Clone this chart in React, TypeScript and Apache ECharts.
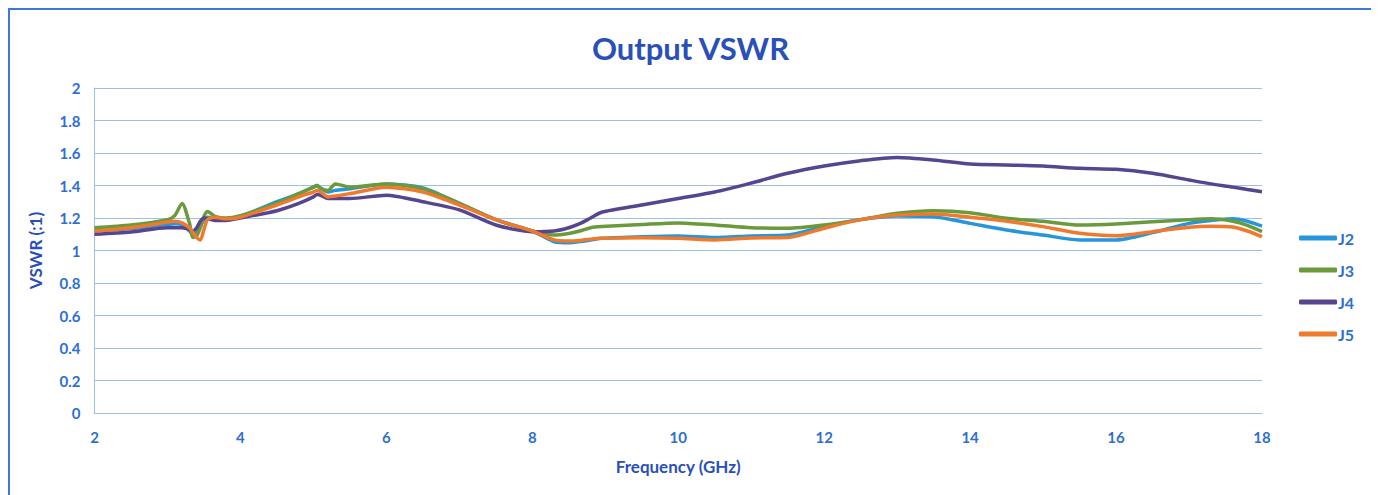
import React, { useEffect, useRef } from "react";
import * as echarts from "echarts";

const freqs = [2, 2.5, 3, 3.1, 3.2, 3.3, 3.35, 3.4, 3.45, 3.5, 3.55, 3.65, 3.8, 4, 4.5, 4.8, 5, 5.05, 5.1, 5.2, 5.3, 5.5, 6, 6.5, 7, 7.5, 8, 8.3, 8.5, 8.65, 8.8, 8.95, 9.5, 10, 10.5, 11, 11.5, 12, 12.5, 13, 13.5, 14, 14.5, 15, 15.5, 16, 16.5, 17, 17.3, 17.6, 17.8, 18];

const j2 = [1.12, 1.135, 1.16, 1.165, 1.16, 1.12, 1.10, 1.11, 1.15, 1.19, 1.205, 1.2, 1.195, 1.21, 1.30, 1.35, 1.39, 1.40, 1.385, 1.36, 1.37, 1.38, 1.41, 1.385, 1.29, 1.19, 1.12, 1.054, 1.048, 1.055, 1.065, 1.075, 1.085, 1.09, 1.08, 1.09, 1.095, 1.147, 1.19, 1.212, 1.208, 1.167, 1.126, 1.095, 1.065, 1.065, 1.11, 1.167, 1.185, 1.195, 1.18, 1.15];
const j3 = [1.14, 1.157, 1.19, 1.215, 1.29, 1.17, 1.08, 1.09, 1.14, 1.21, 1.24, 1.21, 1.20, 1.215, 1.29, 1.35, 1.39, 1.40, 1.38, 1.37, 1.41, 1.39, 1.41, 1.38, 1.29, 1.19, 1.12, 1.095, 1.105, 1.12, 1.14, 1.147, 1.16, 1.17, 1.157, 1.14, 1.137, 1.157, 1.19, 1.229, 1.245, 1.233, 1.198, 1.18, 1.157, 1.163, 1.177, 1.19, 1.195, 1.18, 1.155, 1.116];
const j4 = [1.10, 1.114, 1.14, 1.14, 1.14, 1.13, 1.12, 1.14, 1.18, 1.2, 1.195, 1.185, 1.185, 1.2, 1.245, 1.29, 1.33, 1.345, 1.34, 1.32, 1.32, 1.32, 1.34, 1.30, 1.25, 1.157, 1.115, 1.12, 1.14, 1.165, 1.2, 1.235, 1.28, 1.32, 1.36, 1.415, 1.475, 1.52, 1.553, 1.573, 1.557, 1.532, 1.526, 1.52, 1.506, 1.50, 1.475, 1.434, 1.41, 1.39, 1.375, 1.362];
const j5 = [1.12, 1.14, 1.175, 1.18, 1.17, 1.14, 1.11, 1.08, 1.065, 1.13, 1.19, 1.205, 1.195, 1.205, 1.28, 1.33, 1.36, 1.37, 1.36, 1.33, 1.335, 1.35, 1.39, 1.36, 1.28, 1.19, 1.12, 1.065, 1.058, 1.062, 1.07, 1.075, 1.078, 1.075, 1.065, 1.077, 1.08, 1.137, 1.19, 1.218, 1.225, 1.204, 1.18, 1.147, 1.106, 1.091, 1.116, 1.143, 1.15, 1.145, 1.12, 1.085];

const seriesNames = ["J2", "J3", "J4", "J5"];
const seriesValues = [j2, j3, j4, j5];
const seriesColors = ["#2596dc", "#6a9a3c", "#56458f", "#ef7a2e"];

const labelBlue = "#2f6fd2";
const titleBlue = "#2a4fb8";
const gridBlue = "#9cc0ec";

export default function App() {
  const ref = useRef<HTMLDivElement>(null);
  useEffect(() => {
    if (!ref.current) return;
    const chart = echarts.init(ref.current, null, { renderer: "svg" });
    chart.setOption({
      animation: false,
      backgroundColor: "#ffffff",
      title: {
        text: "Output VSWR",
        left: "center",
        top: 17,
        textStyle: { fontFamily: "Lato", fontWeight: "bold", fontSize: 31, color: titleBlue },
      },
      legend: {
        orient: "vertical",
        left: 1284,
        top: 215,
        itemWidth: 38,
        itemHeight: 5,
        itemGap: 16,
        icon: "roundRect",
        textStyle: { fontFamily: "Lato", fontSize: 16, fontWeight: "bold", color: labelBlue, padding: [0, 0, 0, -4] },
        data: seriesNames,
      },
      grid: { left: 84.5, right: 109, top: 78, bottom: 87 },
      xAxis: {
        type: "value",
        min: 2,
        max: 18,
        interval: 2,
        name: "Frequency (GHz)",
        nameLocation: "middle",
        nameGap: 45,
        nameTextStyle: { fontFamily: "Lato", fontWeight: "bold", fontSize: 17, color: titleBlue },
        axisLine: { show: true, lineStyle: { color: gridBlue, width: 1 } },
        axisTick: { show: false },
        splitLine: { show: false },
        axisLabel: { margin: 16, fontFamily: "Lato", fontWeight: "bold", fontSize: 15, color: labelBlue },
      },
      yAxis: {
        type: "value",
        min: 0,
        max: 2,
        interval: 0.2,
        name: "VSWR (:1)",
        nameLocation: "middle",
        nameGap: 51,
        nameTextStyle: { fontFamily: "Lato", fontWeight: "bold", fontSize: 17, color: titleBlue },
        axisLine: { show: true, lineStyle: { color: gridBlue, width: 1 } },
        axisTick: { show: false },
        splitLine: { show: true, lineStyle: { color: gridBlue, width: 1 } },
        axisLabel: {
          margin: 14,
          fontFamily: "Lato",
          fontWeight: "bold",
          fontSize: 15,
          color: labelBlue,
          formatter: (v: number) => String(Math.round(v * 10) / 10),
        },
      },
      series: seriesNames.map((name, i) => ({
        name,
        type: "line",
        showSymbol: false,
        symbol: "none",
        smooth: 0.25,
        color: seriesColors[i],
        lineStyle: { width: 3.5, color: seriesColors[i] },
        data: freqs.map((f, k) => [f, seriesValues[i][k]]),
      })),
    });
    return () => chart.dispose();
  }, []);
  return (
    <div style={{ width: 1361, height: 500, border: "2px solid #3b7ad6", background: "#fff" }}>
      <div ref={ref} style={{ width: 1361, height: 490 }} />
    </div>
  );
}
